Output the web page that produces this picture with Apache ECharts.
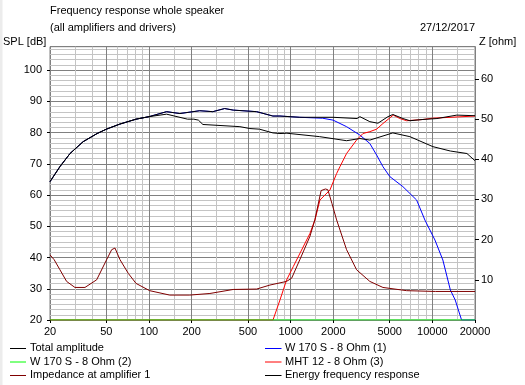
<!DOCTYPE html>
<html><head><meta charset="utf-8">
<script src="https://cdn.jsdelivr.net/npm/echarts@6/dist/echarts.min.js"></script>
<style>html,body{margin:0;padding:0;background:#fff}#c{width:525px;height:385px}</style>
</head><body><div id="c"></div>
<script>
// ---- data ----
const xTickLabels = [20, 50, 100, 200, 500, 1000, 2000, 5000, 10000, 20000];
const xMinorGrid = [30, 40, 60, 70, 80, 90, 150, 300, 400, 600, 700, 800, 900, 1500, 3000, 4000, 6000, 7000, 8000, 9000, 15000];
const xMajorGrid = [50, 100, 200, 500, 1000, 2000, 5000, 10000];

const freqTotal = [20, 23.5, 27.7, 34.3, 43, 50, 62, 81, 100, 133, 165, 228, 282, 342, 393, 575, 749, 840, 1160, 1990, 2940, 3080, 3620, 4130, 4860, 5260, 6200, 6940, 8580, 10770, 14900, 20000];
const totalAmp  = [64.3, 69.1, 73.3, 77.1, 79.7, 81.1, 82.7, 84.3, 85.1, 86.7, 86.1, 87.0, 86.7, 87.7, 87.2, 86.7, 85.3, 85.3, 84.9, 84.9, 84.5, 85.1, 83.5, 83.0, 85.1, 85.8, 84.5, 83.8, 84.2, 84.5, 85.6, 85.4];

const freqEnergy = [20, 23.5, 27.7, 34.3, 43, 50, 62, 81, 100, 133, 187, 207, 213, 223, 240, 438, 515, 602, 749, 840, 940, 1600, 2480, 3080, 3620, 5260, 6940, 10090, 13400, 17540, 20000];
const energyResp = [64.3, 69.1, 73.3, 77.1, 79.7, 81.1, 82.7, 84.3, 85.1, 85.9, 84.3, 84.3, 83.7, 84.0, 82.6, 81.9, 81.3, 81.1, 79.9, 79.7, 79.8, 78.7, 77.4, 78.1, 77.6, 79.9, 78.7, 75.5, 74.1, 73.3, 71.0];

const freqW1 = [20, 23.5, 27.7, 34.3, 43, 50, 62, 81, 100, 133, 165, 228, 282, 342, 393, 575, 749, 840, 1160, 1680, 1990, 2480, 3080, 3620, 4045, 4477, 5012, 6196, 7745, 8860, 9610, 10430, 11860, 13400, 14500, 16080, 20000];
const w1Resp  = [64.3, 69.1, 73.3, 77.1, 79.7, 81.1, 82.7, 84.3, 85.1, 86.7, 86.1, 87.0, 86.7, 87.7, 87.2, 86.7, 85.3, 85.3, 84.9, 84.6, 84.0, 81.9, 79.2, 76.5, 72.8, 69.1, 65.9, 62.7, 58.4, 52.0, 48.8, 45.6, 39.2, 29.6, 26.4, 20.0, 20.0];

const freqW2 = [20, 20000];
const w2Resp = [20, 20];

const freqMHT = [20, 750, 840, 935, 1043, 1194, 1367, 1483, 1608, 1892, 2110, 2228, 2480, 2918, 3236, 3620, 4045, 4477, 5295, 5902, 6580, 8580, 10000, 20000];
const mhtResp = [20, 20, 26.4, 32.8, 37.1, 42.4, 47.7, 52.0, 58.4, 61.6, 66.9, 69.1, 73.3, 77.6, 79.7, 80.3, 81.1, 82.9, 85.6, 84.5, 83.8, 84.2, 84.6, 85.3];

const freqImp = [20, 21.4, 23.5, 26.2, 30, 35.3, 42.7, 50.2, 54.5, 57.5, 62.4, 71.4, 81, 101, 140, 194, 269, 393, 575, 714, 935, 1016, 1160, 1367, 1483, 1640, 1760, 1830, 1955, 2110, 2480, 2918, 3620, 4477, 6580, 10500, 20000];
const impedance = [16.2, 15.0, 12.5, 9.6, 8.1, 8.1, 10.0, 15.0, 17.5, 17.9, 15.0, 11.6, 9.1, 7.3, 6.2, 6.2, 6.6, 7.6, 7.7, 8.7, 9.6, 10.4, 15.0, 20.8, 25.0, 32.2, 32.6, 32.4, 29.0, 24.9, 17.5, 12.5, 9.6, 8.1, 7.3, 7.1, 7.1];

const names = ['Total amplitude', 'W 170 S - 8 Ohm (1)', 'W 170 S - 8 Ohm (2)', 'MHT 12 - 8 Ohm (3)', 'Impedance at amplifier 1', 'Energy frequency response'];
const colors = ['#000000', '#0000ff', '#00ff00', '#ff0000', '#800000', '#000000'];

// ---- build ----
const pairs = (xs, ys) => xs.map((x, i) => [x, ys[i]]);
const FONT = 'Liberation Sans, Arial, sans-serif';
const DARK = '#808080', LIGHT = '#c4c4c4';

const hLines = [];
for (let k = 1; k * 10 / 6 < 87.5; k++) {
  if (k % 6 !== 0) hLines.push({ yAxis: 20 + k * 10 / 6, lineStyle: { color: LIGHT } });
}
const vLines = xMinorGrid.map(v => ({ xAxis: v, lineStyle: { color: LIGHT } }))
  .concat(xMajorGrid.map(v => ({ xAxis: v, lineStyle: { color: DARK } })));

function line(name, xs, ys, color, z, yIdx) {
  return { name, type: 'line', data: pairs(xs, ys), yAxisIndex: yIdx || 0, symbol: 'none', showSymbol: false,
    lineStyle: { color, width: 1 }, itemStyle: { color }, z, animation: false, silent: true };
}

// legend drawn as graphic (two columns, three rows)
const legendGraphic = [];
const legendOrder = [[0, 1], [2, 3], [4, 5]];
const rowY = [348, 361.5, 375];
const colX = [[10, 26, 30], [265, 281.5, 285]];
legendOrder.forEach((row, r) => row.forEach((si, c) => {
  legendGraphic.push({ type: 'line', silent: true, shape: { x1: colX[c][0], y1: rowY[r] + 0.5, x2: colX[c][1], y2: rowY[r] + 0.5 }, style: { stroke: colors[si], lineWidth: 1 } });
  legendGraphic.push({ type: 'text', silent: true, x: colX[c][2], y: rowY[r], style: { text: names[si], font: '11px ' + FONT, fill: '#000', verticalAlign: 'middle', align: 'left' } });
}));

const chart = echarts.init(document.getElementById('c'), null, { renderer: 'canvas' });
chart.setOption({
  animation: false,
  textStyle: { fontFamily: FONT, fontSize: 11, color: '#000' },
  grid: { left: 50, right: 50, top: 46.7, bottom: 65, show: true, borderColor: DARK, borderWidth: 1, backgroundColor: '#fff' },
  xAxis: {
    type: 'log', logBase: 10, min: 20, max: 20000,
    axisLine: { show: true, lineStyle: { color: DARK } },
    axisTick: { show: true, length: 3, inside: false, customValues: xTickLabels, lineStyle: { color: '#000' } },
    axisLabel: { customValues: xTickLabels, margin: 6, fontFamily: FONT, fontSize: 11, color: '#000', formatter: v => String(Math.round(v)) },
    splitLine: { show: false }, minorTick: { show: false }, minorSplitLine: { show: false }
  },
  yAxis: [{
    type: 'value', min: 20, max: 107.5, interval: 10, position: 'left',
    axisLine: { show: true, lineStyle: { color: DARK } },
    axisTick: { show: true, length: 3, lineStyle: { color: '#000' } },
    axisLabel: { margin: 8, showMaxLabel: false, fontFamily: FONT, fontSize: 11, color: '#000' },
    splitLine: { show: true, lineStyle: { color: DARK, width: 1 } },
    minorTick: { show: false }, minorSplitLine: { show: false }
  }, {
    type: 'value', min: 0, max: 68, interval: 10, position: 'right',
    axisLine: { show: true, lineStyle: { color: DARK } },
    axisTick: { show: true, length: 4, lineStyle: { color: '#000' } },
    axisLabel: { margin: 6, showMinLabel: false, showMaxLabel: false, fontFamily: FONT, fontSize: 11, color: '#000' },
    splitLine: { show: false }
  }],
  graphic: [
    { type: 'rect', left: 0, top: 0, silent: true, shape: { width: 2.5, height: 385 }, style: { fill: '#ececec' } },
    { type: 'text', left: 50, top: 5, style: { text: 'Frequency response whole speaker', font: '11px ' + FONT, fill: '#000' } },
    { type: 'text', left: 50, top: 22, style: { text: '(all amplifiers and drivers)', font: '11px ' + FONT, fill: '#000' } },
    { type: 'text', right: 50, top: 22, style: { text: '27/12/2017', font: '11px ' + FONT, fill: '#000' } },
    { type: 'text', left: 3, top: 36, style: { text: 'SPL [dB]', font: '11px ' + FONT, fill: '#000' } },
    { type: 'text', left: 479, top: 36, style: { text: 'Z [ohm]', font: '11px ' + FONT, fill: '#000' } }
  ].concat(legendGraphic),
  series: [
    { type: 'line', data: [], z: 1, silent: true, symbol: 'none',
      markLine: { silent: true, symbol: ['none', 'none'], label: { show: false }, z: 1, animation: false,
        lineStyle: { type: 'solid', width: 1 }, emphasis: { disabled: true },
        data: hLines.concat(vLines) } },
    line(names[0], freqTotal, totalAmp, colors[0], 6),
    line(names[1], freqW1, w1Resp, colors[1], 3),
    line(names[2], freqW2, w2Resp, colors[2], 5),
    line(names[3], freqMHT, mhtResp, colors[3], 4),
    line(names[4], freqImp, impedance, colors[4], 4, 1),
    line(names[5], freqEnergy, energyResp, colors[5], 6)
  ]
});
</script></body></html>
